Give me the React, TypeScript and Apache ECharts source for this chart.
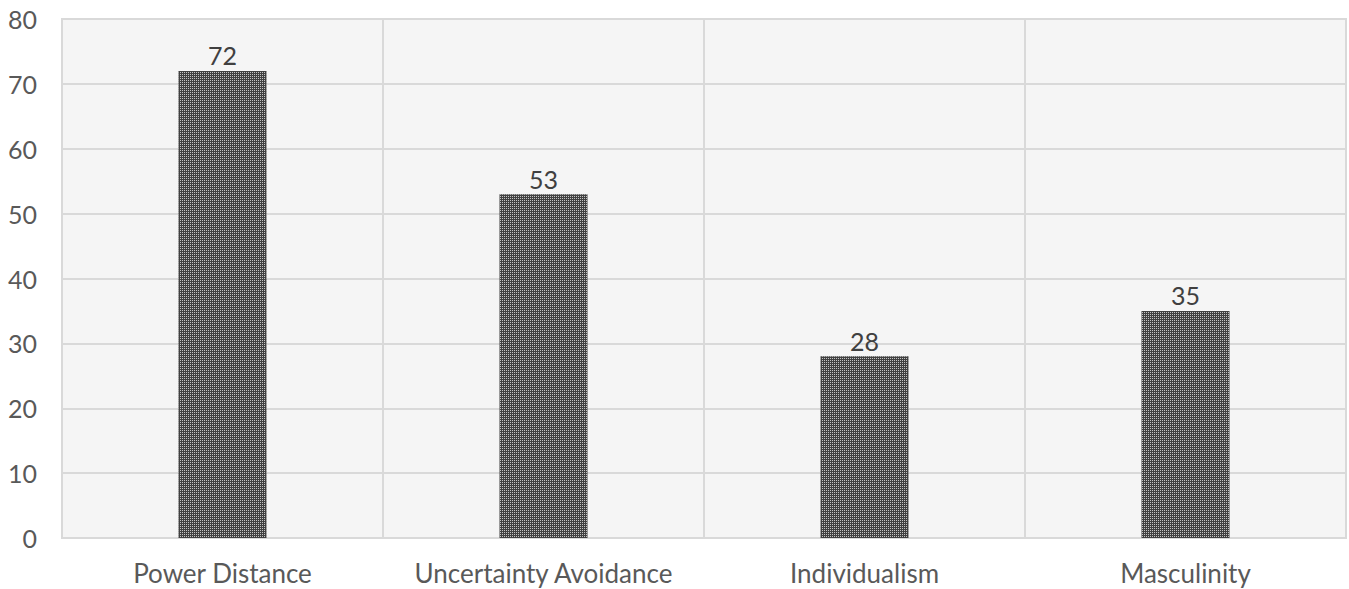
import React, { useEffect, useRef } from "react";
import * as echarts from "echarts";

const categories = ["Power Distance", "Uncertainty Avoidance", "Individualism", "Masculinity"];
const values = [72, 53, 28, 35];
const yTicks = [0, 10, 20, 30, 40, 50, 60, 70, 80];

export default function App() {
  const ref = useRef<HTMLDivElement>(null);
  useEffect(() => {
    if (!ref.current) return;
    const chart = echarts.init(ref.current, undefined, { renderer: "svg" });
    const font = "Lato";
    chart.setOption({
      animation: false,
      grid: {
        left: 62,
        right: 3,
        top: 19,
        bottom: 51,
        show: true,
        backgroundColor: "#f5f5f5",
        borderColor: "#d9d9d9",
        borderWidth: 2,
      },
      xAxis: {
        type: "category",
        data: categories,
        axisLine: { show: true, lineStyle: { color: "#d9d9d9", width: 2 } },
        axisTick: { show: false },
        splitLine: { show: true, interval: 0, lineStyle: { color: "#d9d9d9", width: 2 } },
        axisLabel: { color: "#595959", fontFamily: font, fontSize: 26, margin: 22, interval: 0, hideOverlap: false },
      },
      yAxis: {
        type: "value",
        min: yTicks[0],
        max: yTicks[yTicks.length - 1],
        interval: 10,
        axisLine: { show: false },
        axisTick: { show: false },
        splitLine: { show: true, lineStyle: { color: "#d9d9d9", width: 2 } },
        axisLabel: { color: "#595959", fontFamily: font, fontSize: 25, margin: 25 },
      },
      series: [
        {
          type: "bar",
          data: values,
          barWidth: 88,
          itemStyle: {
            color: "#404040",
            decal: {
              symbol: "rect",
              symbolSize: 1,
              dashArrayX: [1, 1],
              dashArrayY: [1, 1],
              color: "#c4c4c4",
              rotation: 0,
            },
          },
          label: {
            show: true,
            position: "top",
            distance: 3,
            color: "#404040",
            fontFamily: font,
            fontSize: 25,
          },
        },
      ],
    });
    return () => chart.dispose();
  }, []);
  return <div ref={ref} style={{ width: 1349, height: 589, position: "absolute", left: 0, top: 0 }} />;
}
